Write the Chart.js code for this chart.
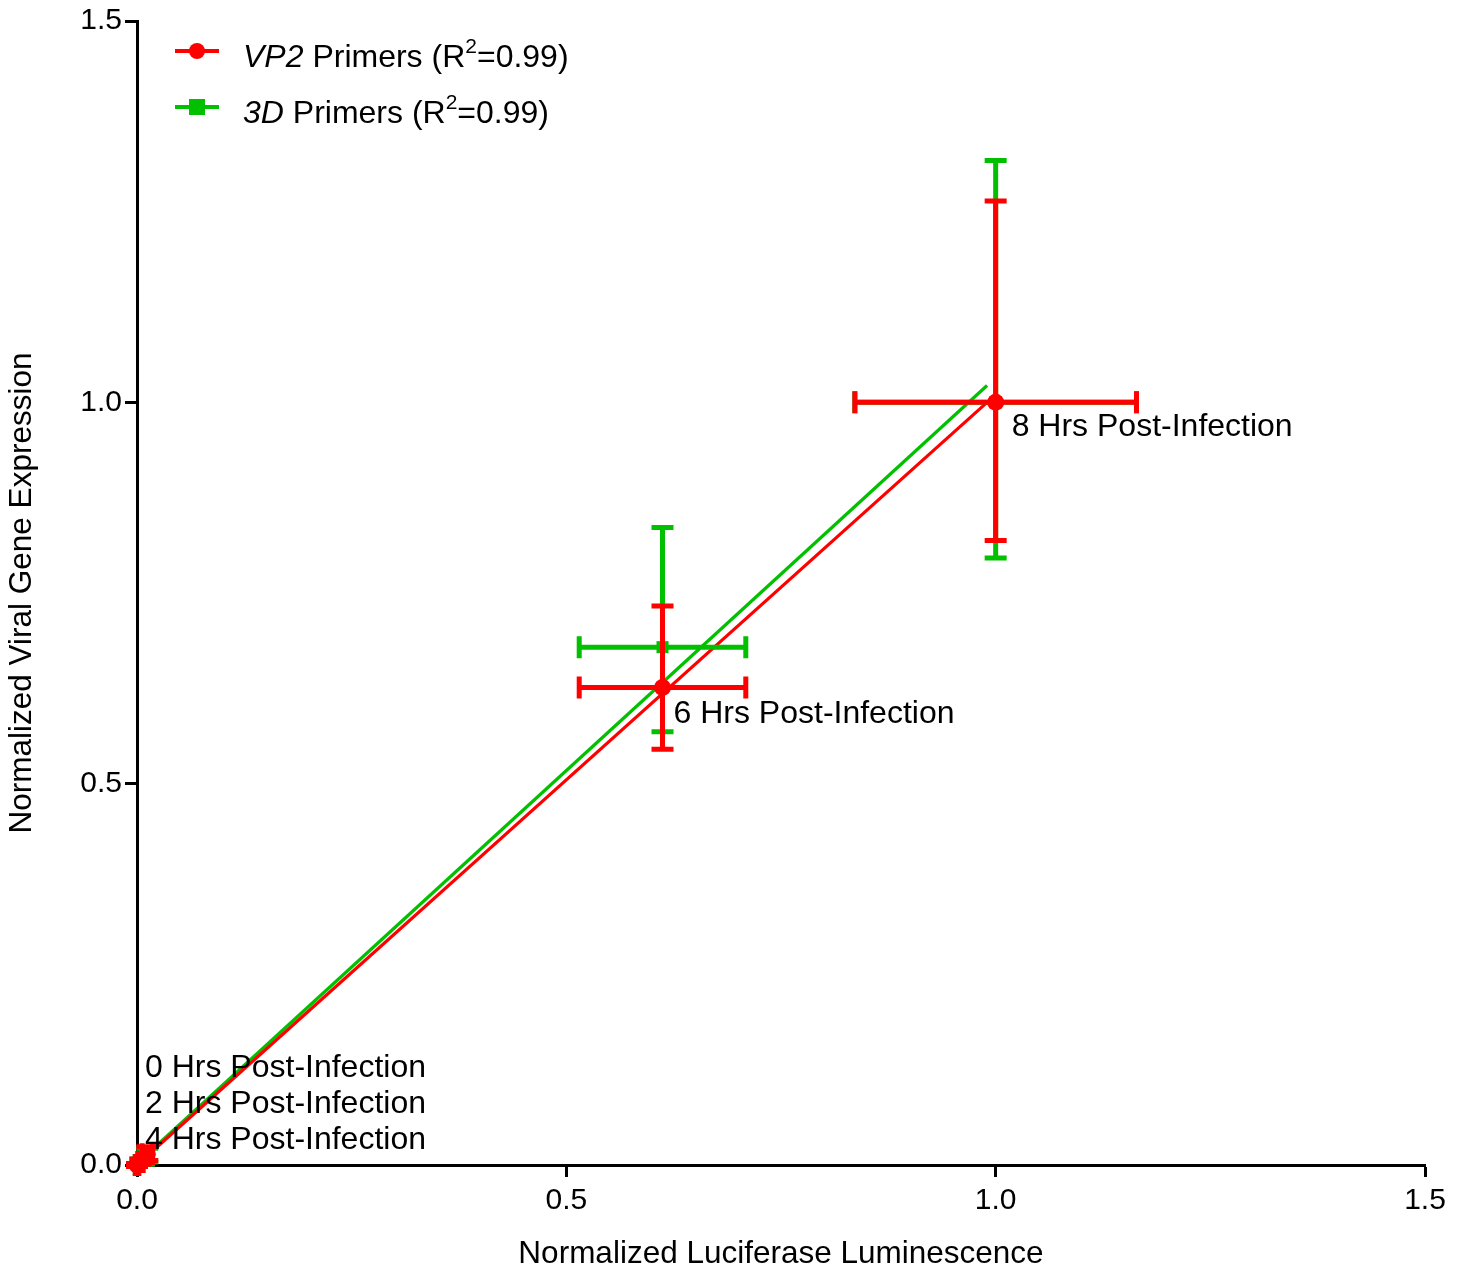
<!DOCTYPE html>
<html>
<head>
<meta charset="utf-8">
<script src="https://cdn.jsdelivr.net/npm/chart.js@4.4.0/dist/chart.umd.min.js"></script>
<style>
  body { margin: 0; background: #fff; }
  #wrap { position: relative; width: 1468px; height: 1274px; }
  #legend { position: absolute; left: 175px; top: 28px; font-family: "Liberation Sans", Arial, sans-serif; font-size: 32px; color: #000; }
  .row { height: 56px; display: flex; align-items: center; }
  .sym { position: relative; top: -5px; width: 44px; height: 20px; margin-right: 24px; }
  .sym .ln { position: absolute; left: 0; right: 0; top: 8px; height: 4px; }
  .sym .mk { position: absolute; left: 14px; top: 2px; width: 16px; height: 16px; }
  sup { font-size: 21px; vertical-align: 14px; line-height: 0; }
</style>
</head>
<body>
<div id="wrap">
  <canvas id="myChart" width="1468" height="1274"></canvas>
  <div id="legend">
    <div class="row"><span class="sym"><span class="ln" style="background:#ff0000"></span><span class="mk" style="background:#ff0000;border-radius:50%"></span></span><span><i>VP2</i> Primers (R<sup>2</sup>=0.99)</span></div>
    <div class="row"><span class="sym"><span class="ln" style="background:#00c000"></span><span class="mk" style="background:#00c000"></span></span><span><i>3D</i> Primers (R<sup>2</sup>=0.99)</span></div>
  </div>
</div>
<script>
// time points
const hourLabels = ["0 Hrs Post-Infection", "2 Hrs Post-Infection", "4 Hrs Post-Infection", "6 Hrs Post-Infection", "8 Hrs Post-Infection"];

// VP2 primers (red)
const vp2X = [0.000, 0.004, 0.012, 0.612, 1.000];
const vp2Y = [0.000, 0.004, 0.014, 0.626, 1.000];
const vp2XErr = [0.002, 0.003, 0.006, 0.097, 0.164];
const vp2YUp = [0.002, 0.004, 0.010, 0.107, 0.264];
const vp2YDown = [0.002, 0.003, 0.008, 0.081, 0.181];

// 3D primers (green)
const d3X = [0.000, 0.004, 0.012, 0.612, 1.000];
const d3Y = [0.000, 0.004, 0.012, 0.679, 1.000];
const d3XErr = [0.002, 0.003, 0.006, 0.097, 0.164];
const d3YUp = [0.002, 0.004, 0.010, 0.157, 0.317];
const d3YDown = [0.002, 0.003, 0.008, 0.111, 0.204];

// linear fits (start / end of each line)
const vp2FitX = [0.0, 0.99];
const vp2FitY = [0.0, 1.0];
const d3FitX = [0.0, 0.99];
const d3FitY = [0.002, 1.022];

const xTicks = [0, 0.5, 1.0, 1.5];
const yTicks = [0, 0.5, 1.0, 1.5];

const RED = "#ff0000";
const GREEN = "#00c000";
const FONT = "'Liberation Sans', Arial, sans-serif";

function toPoints(xs, ys) {
    return xs.map((x, i) => ({ x: x, y: ys[i] }));
}

// error bars drawn just before each scatter dataset's markers
const errorBars = {
    id: "errorBars",
    beforeDatasetDraw(chart, args) {
        const ds = chart.data.datasets[args.index];
        if (!ds.errX) return;
        const xs = chart.scales.x, ys = chart.scales.y;
        const ctx = chart.ctx;
        const cap = 11;
        ctx.save();
        ctx.strokeStyle = ds.borderColor;
        ctx.lineWidth = 5;
        ds.data.forEach((p, i) => {
            const px = xs.getPixelForValue(p.x), py = ys.getPixelForValue(p.y);
            const xl = xs.getPixelForValue(p.x - ds.errX[i]), xr = xs.getPixelForValue(p.x + ds.errX[i]);
            const yt = ys.getPixelForValue(p.y + ds.errUp[i]), yb = ys.getPixelForValue(p.y - ds.errDown[i]);
            ctx.beginPath();
            ctx.moveTo(xl, py); ctx.lineTo(xr, py);
            ctx.moveTo(xl, py - cap); ctx.lineTo(xl, py + cap);
            ctx.moveTo(xr, py - cap); ctx.lineTo(xr, py + cap);
            ctx.moveTo(px, yt); ctx.lineTo(px, yb);
            ctx.moveTo(px - cap, yt); ctx.lineTo(px + cap, yt);
            ctx.moveTo(px - cap, yb); ctx.lineTo(px + cap, yb);
            ctx.stroke();
        });
        ctx.restore();
    }
};

// time point labels next to the VP2 points
const pointLabels = {
    id: "pointLabels",
    afterDatasetsDraw(chart) {
        const xs = chart.scales.x, ys = chart.scales.y;
        const ctx = chart.ctx;
        ctx.save();
        ctx.font = "32px " + FONT;
        ctx.fillStyle = "#000";
        ctx.textAlign = "left";
        ctx.textBaseline = "alphabetic";
        const x0 = xs.getPixelForValue(0), y0 = ys.getPixelForValue(0);
        // first three are stacked above the origin
        for (let i = 0; i < 3; i++) {
            ctx.fillText(hourLabels[i], x0 + 8, y0 - 88 + i * 36);
        }
        ctx.fillText(hourLabels[3], xs.getPixelForValue(vp2X[3]) + 11, ys.getPixelForValue(vp2Y[3]) + 35);
        ctx.fillText(hourLabels[4], xs.getPixelForValue(vp2X[4]) + 16, ys.getPixelForValue(vp2Y[4]) + 34);
        ctx.restore();
    }
};

new Chart("myChart", {
    type: "scatter",
    data: {
        datasets: [
            {
                label: "VP2 Primers",
                data: toPoints(vp2X, vp2Y),
                errX: vp2XErr, errUp: vp2YUp, errDown: vp2YDown,
                borderColor: RED, backgroundColor: RED,
                pointStyle: "circle", pointRadius: 8.5, pointBorderWidth: 0,
                showLine: false, clip: false, order: 0
            },
            {
                label: "3D Primers",
                data: toPoints(d3X, d3Y),
                errX: d3XErr, errUp: d3YUp, errDown: d3YDown,
                borderColor: GREEN, backgroundColor: GREEN,
                pointStyle: "rect", pointRadius: 8.5, pointBorderWidth: 0,
                showLine: false, clip: false, order: 1
            },
            {
                label: "VP2 fit",
                data: toPoints(vp2FitX, vp2FitY),
                borderColor: RED, borderWidth: 3.2,
                pointRadius: 0, showLine: true, clip: false, order: 2
            },
            {
                label: "3D fit",
                data: toPoints(d3FitX, d3FitY),
                borderColor: GREEN, borderWidth: 3.2,
                pointRadius: 0, showLine: true, clip: false, order: 3
            }
        ]
    },
    options: {
        responsive: false,
        animation: false,
        layout: { padding: { top: 18, right: 43, left: 0, bottom: 0 } },
        plugins: {
            legend: { display: false },
            tooltip: { enabled: false }
        },
        scales: {
            x: {
                type: "linear",
                min: 0, max: 1.5,
                afterBuildTicks: (scale) => { scale.ticks = xTicks.map(v => ({ value: v })); },
                afterFit: (scale) => { scale.height = 109; },
                border: { display: true, color: "#000", width: 3 },
                grid: { drawOnChartArea: false, drawTicks: true, tickLength: 12, tickWidth: 3, tickColor: "#000" },
                ticks: {
                    color: "#000", padding: 6,
                    font: { family: FONT, size: 30 },
                    callback: (v) => Number(v).toFixed(1)
                },
                title: {
                    display: true, text: "Normalized Luciferase Luminescence",
                    color: "#000", font: { family: FONT, size: 31.5 }, padding: { top: 0, bottom: 1 }
                }
            },
            y: {
                type: "linear",
                min: 0, max: 1.5,
                afterBuildTicks: (scale) => { scale.ticks = yTicks.map(v => ({ value: v })); },
                afterFit: (scale) => { scale.width = 137; },
                border: { display: true, color: "#000", width: 3 },
                grid: { drawOnChartArea: false, drawTicks: true, tickLength: 12, tickWidth: 3, tickColor: "#000" },
                ticks: {
                    color: "#000", padding: 3,
                    font: { family: FONT, size: 30 },
                    callback: (v) => Number(v).toFixed(1)
                },
                title: {
                    display: true, text: "Normalized Viral Gene Expression",
                    color: "#000", font: { family: FONT, size: 31.5 }, padding: { top: 3, bottom: 0 }
                }
            }
        }
    },
    plugins: [errorBars, pointLabels]
});
</script>
</body>
</html>
